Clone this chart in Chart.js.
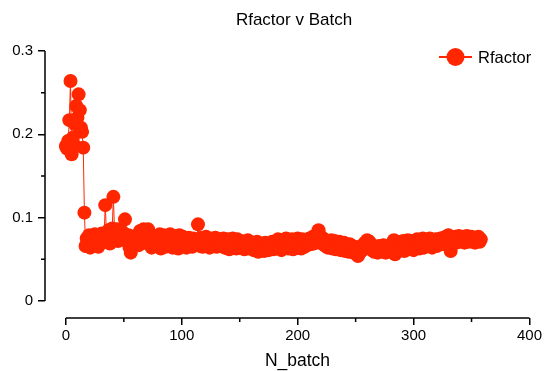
<!DOCTYPE html>
<html>
<head>
<meta charset="utf-8">
<script src="https://cdn.jsdelivr.net/npm/chart.js@4/dist/chart.umd.min.js"></script>
<style>
html,body{margin:0;padding:0;background:#fff;}
canvas{display:block;}
</style>
</head>
<body>
<canvas id="c" width="544" height="371"></canvas>
<script>
const chartTitle = "Rfactor v Batch";
const xAxisTitle = "N_batch";
const seriesName = "Rfactor";
const xTicks = [0, 100, 200, 300, 400];
const yTicks = [0, 0.1, 0.2, 0.3];
const xMinorTicks = [50, 150, 250, 350];
const yMinorTicks = [0.05, 0.15, 0.25];
// Rfactor per batch, batch number = position in the list (0..358)
const rfactor = [
  0.186,0.183,0.192,0.217,0.264,0.176,0.196,0.188,0.212,0.234,0.220,0.248,0.229,0.208,0.203,0.184,0.106,
  0.066,0.075,0.069,0.079,0.064,0.073,0.077,0.068,0.080,0.070,0.076,0.065,0.078,0.072,
  0.081,0.071,0.079,0.115,0.082,0.073,0.085,0.069,0.080,0.087,0.125,0.083,0.075,0.086,0.072,0.081,0.076,
  0.084,0.074,0.081,0.098,0.077,0.071,0.079,0.064,0.058,0.067,0.075,0.069,0.078,0.071,
  0.079,0.067,0.084,0.074,0.082,0.086,0.070,0.085,0.076,0.086,0.072,0.080,0.064,0.076,0.068,
  0.076,0.066,0.078,0.070,0.080,0.063,0.074,0.069,0.079,0.065,
  0.077,0.071,0.067,0.080,0.075,0.064,0.072,0.078,0.068,0.074,
  0.063,0.079,0.071,0.066,0.077,0.069,0.075,0.064,0.072,0.076,
  0.067,0.073,0.065,
  0.075,0.067,0.073,0.069,0.092,0.072,0.066,0.076,0.065,0.074,
  0.069,0.077,0.066,0.072,0.064,0.075,0.068,0.073,0.069,0.076,
  0.065,0.072,0.068,
  0.074,0.066,0.070,0.075,0.064,0.072,0.068,0.074,0.062,0.071,
  0.066,0.075,0.065,0.071,0.063,0.074,0.068,0.064,0.072,0.066,
  0.071,0.062,0.069,0.065,0.073,0.063,0.069,0.064,
  0.070,0.061,0.068,0.063,0.071,0.059,0.066,0.069,0.062,0.068,
  0.060,0.070,0.063,0.068,0.061,0.069,0.065,0.071,0.062,0.068,
  0.071,0.063,0.074,0.066,0.071,0.061,0.069,0.073,0.064,0.075,
  0.068,0.063,0.072,0.066,0.074,0.062,0.070,0.073,0.064,0.075,
  0.067,0.071,0.063,0.074,0.068,0.065,0.073,0.067,0.071,
  0.075,0.068,0.072,0.077,0.069,0.076,0.078,0.081,0.085,0.079,0.071,0.076,0.068,
  0.074,0.066,0.072,0.064,0.071,0.065,0.073,0.063,0.070,0.072,
  0.062,0.069,0.064,0.071,0.061,0.068,0.063,0.070,0.060,0.067,
  0.062,0.059,0.068,0.061,0.066,0.058,0.065,
  0.058,0.062,0.054,0.057,0.063,0.060,
  0.067,0.063,0.070,0.067,0.073,0.066,0.071,0.063,
  0.061,0.066,0.059,0.065,0.062,0.058,0.066,0.061,0.065,0.059,
  0.067,0.062,0.058,0.065,0.061,0.066,0.059,0.063,
  0.069,0.073,0.056,0.064,0.071,
  0.066,0.061,0.070,0.064,0.072,0.060,0.069,0.065,0.073,0.062,
  0.070,0.066,0.072,0.061,0.071,0.065,0.074,0.067,0.063,0.072,
  0.068,0.075,0.064,0.071,0.066,0.073,0.067,0.075,0.069,0.064,
  0.073,0.068,0.074,0.066,0.072,0.069,
  0.075,0.068,0.073,0.076,0.069,0.077,0.072,0.079,0.067,0.060,0.070,0.076,
  0.071,0.077,0.070,0.075,0.078,0.071,0.076,0.072,0.077,0.070,
  0.075,0.078,0.071,0.076,0.072,0.077,0.071,0.075,0.070,0.076,
  0.072,0.077,0.071,0.074
];

const RED = '#ff2600';
const FONT = '"Liberation Sans", Arial, sans-serif';
const points = rfactor.map((v, i) => ({x: i, y: v}));

const decor = {
  id: 'decor',
  afterDraw(chart) {
    const {ctx, scales: {x, y}} = chart;
    ctx.save();
    ctx.strokeStyle = '#000';
    ctx.lineWidth = 1.5;
    const ax = chart.chartArea.left;
    const ay = chart.chartArea.bottom;
    // detached axis lines
    ctx.beginPath();
    ctx.moveTo(ax, y.getPixelForValue(yTicks[0]));
    ctx.lineTo(ax, y.getPixelForValue(yTicks[yTicks.length - 1]));
    ctx.moveTo(x.getPixelForValue(xTicks[0]), ay);
    ctx.lineTo(x.getPixelForValue(xTicks[xTicks.length - 1]), ay);
    // minor ticks
    yMinorTicks.forEach(v => { const p = y.getPixelForValue(v); ctx.moveTo(ax - 4, p); ctx.lineTo(ax, p); });
    xMinorTicks.forEach(v => { const p = x.getPixelForValue(v); ctx.moveTo(p, ay); ctx.lineTo(p, ay + 4); });
    ctx.stroke();
    // titles
    ctx.fillStyle = '#000';
    ctx.textAlign = 'center';
    ctx.textBaseline = 'alphabetic';
    ctx.font = '17px ' + FONT;
    ctx.fillText(chartTitle, 294, 25);
    ctx.font = '17.5px ' + FONT;
    ctx.fillText(xAxisTitle, 297.5, 366);
    // legend
    ctx.strokeStyle = RED;
    ctx.lineWidth = 2;
    ctx.beginPath();
    ctx.moveTo(439, 57);
    ctx.lineTo(472, 57);
    ctx.stroke();
    ctx.fillStyle = RED;
    ctx.beginPath();
    ctx.arc(455.5, 57, 9, 0, Math.PI * 2);
    ctx.fill();
    ctx.fillStyle = '#000';
    ctx.textAlign = 'left';
    ctx.font = '16.5px ' + FONT;
    ctx.fillText(seriesName, 478, 63);
    ctx.restore();
  }
};

new Chart(document.getElementById('c'), {
  type: 'scatter',
  data: {
    datasets: [{
      label: seriesName,
      data: points,
      showLine: true,
      borderColor: RED,
      borderWidth: 1,
      backgroundColor: RED,
      pointBackgroundColor: RED,
      pointBorderColor: RED,
      pointBorderWidth: 0,
      pointRadius: 7,
      pointHoverRadius: 7
    }]
  },
  options: {
    responsive: false,
    animation: false,
    devicePixelRatio: 1,
    layout: {padding: {top: 51, right: 12, left: 0, bottom: 0}},
    plugins: {legend: {display: false}, title: {display: false}, tooltip: {enabled: false}},
    scales: {
      x: {
        type: 'linear',
        min: -18,
        max: 400,
        afterBuildTicks: s => { s.ticks = xTicks.map(v => ({value: v})); },
        afterFit: s => { s.height = 53; },
        border: {display: false},
        grid: {display: true, drawOnChartArea: false, drawTicks: true, tickLength: 7, color: '#000', lineWidth: 1.5},
        ticks: {color: '#000', padding: 2, maxRotation: 0, font: {family: FONT, size: 15}, callback: v => String(v)}
      },
      y: {
        type: 'linear',
        min: -0.0204,
        max: 0.3,
        afterBuildTicks: s => { s.ticks = yTicks.map(v => ({value: v})); },
        afterFit: s => { s.width = 45; },
        border: {display: false},
        grid: {display: true, drawOnChartArea: false, drawTicks: true, tickLength: 7, color: '#000', lineWidth: 1.5},
        ticks: {color: '#000', padding: 5, font: {family: FONT, size: 15}, callback: v => String(v)}
      }
    }
  },
  plugins: [decor]
});
</script>
</body>
</html>
